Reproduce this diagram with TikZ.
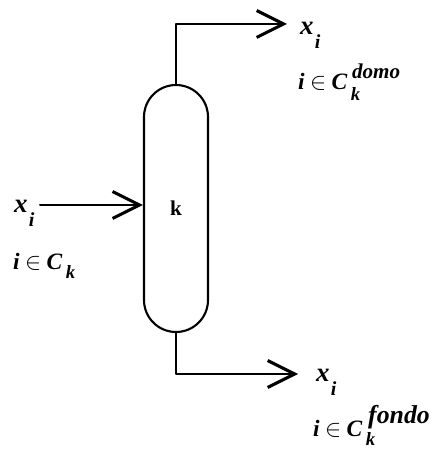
\documentclass[tikz,border=0pt]{standalone}
\usepackage{amsmath,amssymb}
\usepackage{fontspec}
\setmainfont{Liberation Serif}
\usetikzlibrary{arrows.meta}
\newcommand{\sy}[2][20]{\text{\fontsize{#1}{#1}\selectfont\bfseries\itshape #2}}
\newcommand{\lowsub}[3][16]{\sb{\kern#2\raisebox{-4pt}{\sy[#1]{#3}}}}
\newcommand{\highsup}[3][18]{\sp{\kern#2\raisebox{2pt}{\sy[#1]{#3}}}}
\newcommand{\stream}{$\sy[23]{x}\sb{\kern1pt\raisebox{-8pt}{\sy[17]{i}}}$}
\newcommand{\member}{\sy{i}\mskip-1mu\in\mskip-1mu\sy{C}}
\tikzset{
 flow/.style={-{Straight Barb[length=23pt,width=23pt,line width=2.6pt]},line width=1.7pt},
 column/.style={draw,line width=1.8pt,minimum width=1.92cm,minimum height=7.41cm,inner sep=0pt,rounded corners=.96cm},
 streamlabel/.style={anchor=base west,inner sep=0pt,font=\fontsize{20}{22}\selectfont}
}
\begin{document}
\begin{tikzpicture}[line cap=round,line join=round]
\useasboundingbox (0,0) rectangle (13.02,13.47);
% Columna k
\node[column,font=\fontsize{18}{20}\selectfont\bfseries] (colk) at (5.28,7.215) {k};
% Alimentacion
\coordinate (feedstart) at (1.2,7.32);
\node[streamlabel] (feedx) at (.42,7.08) {\stream};
\node[streamlabel] (feedset) at (.39,5.37) {$\member\lowsub{3pt}{k}$};
\draw[flow] (feedstart) -- (feedstart -| colk.west);
% Domo
\coordinate (topend) at (8.61,12.75);
\node[streamlabel] (topx) at (9.0,12.42) {\stream};
\node[streamlabel] (topset) at (8.94,10.77) {$\member\lowsub{3pt}{k}\highsup{4pt}{domo}$};
\draw[flow] (colk.north) |- (topend);
% Fondo
\coordinate (botend) at (8.94,2.25);
\node[streamlabel] (botx) at (9.48,2.01) {\stream};
\node[streamlabel] (botset) at (9.39,.36) {$\member\lowsub{3pt}{k}\highsup[22]{5pt}{fondo}$};
\draw[flow] (colk.south) |- (botend);
\end{tikzpicture}
\end{document}
